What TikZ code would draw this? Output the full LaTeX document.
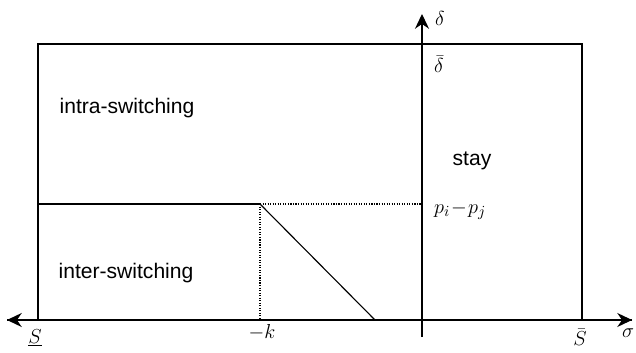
\documentclass[tikz,border=0pt]{standalone}
\usepackage{fontspec}
\setsansfont{Liberation Sans}
\usetikzlibrary{arrows.meta}
\tikzset{
  region/.style={font=\sffamily\fontsize{15}{18}\selectfont},
  lbl/.style={font=\fontsize{15}{17}\selectfont, inner sep=1pt},
  axis/.style={line width=0.8pt,-{Stealth[length=10.5pt,width=10pt]}},
}
\begin{document}
\begin{tikzpicture}[x=0.025cm,y=-0.025cm,line width=0.8pt]
            \useasboundingbox (0,0) rectangle (636,353);

            % corners and points
            \coordinate (sw) at (38,320);
            \coordinate (ne) at (582,44);
            \coordinate (left) at (38,204);
            \coordinate (kink) at (260,204);
            \coordinate (kfoot) at (260,320);
            \coordinate (dfoot) at (375,320);
            \coordinate (yaxis) at (422,204);
            \coordinate (xl) at (7,320);
            \coordinate (xr) at (632,320);
            \coordinate (yb) at (422,337);
            \coordinate (yt) at (422,14);

            \draw (sw) rectangle (ne); %Box

            \draw[axis] (xr) -- (xl);
            \draw[axis] (xl) -- (xr);
            \draw[axis] (yb) -- (yt);

            \draw (left) -- (kink);
            \draw[densely dotted] (kink) -- (yaxis);
            \draw[densely dotted] (kink) -- (kfoot);
            \draw (kink) -- (dfoot);

            \node[lbl] (smin) at (35,338) {$\underline{S}$};
            \node[lbl] (mk) at (262,332) {$-k$};
            \node[lbl] (smax) at (580,337) {$\bar{S}$};
            \node[lbl] (sig) at (628,333) {$\sigma$};
            \node[lbl] (del) at (440,18) {$\delta$};
            \node[lbl] (dmax) at (439,64) {$\bar{\delta}$};
            \node[lbl] (pp) at (460,211) {$p_i\!-\!p_j$};

            \node[region] (intra) at (127,108) {intra-switching};
            \node[region] (inter) at (126,273) {inter-switching};
            \node[region] (stay) at (472,161) {stay};
        \end{tikzpicture}
\end{document}
